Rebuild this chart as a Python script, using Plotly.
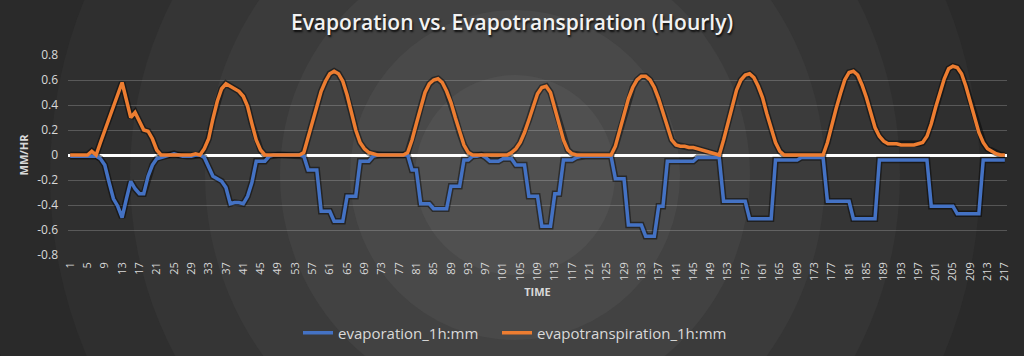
import base64
import plotly.graph_objects as go

# ---------------- data ----------------
hours = list(range(1, 218))
tick_labels = [str(v) for v in range(1, 218, 4)]

evaporation = [
    -0.01, -0.01, -0.01, -0.01, -0.01, -0.01, -0.01, -0.03, -0.08, -0.22,
    -0.35, -0.41, -0.50, -0.35, -0.21, -0.27, -0.31, -0.31, -0.17, -0.08,
    -0.03, -0.02, -0.01, 0.00, 0.01, 0.00, -0.01, -0.01, -0.01, 0.00,
    0.00, -0.02, -0.09, -0.17, -0.19, -0.21, -0.26, -0.39, -0.38, -0.38,
    -0.39, -0.33, -0.22, -0.05, -0.05, -0.05, -0.01, 0.00, 0.00, 0.00,
    0.00, 0.00, 0.00, 0.00, -0.01, -0.12, -0.12, -0.12, -0.45, -0.45,
    -0.45, -0.53, -0.53, -0.53, -0.33, -0.33, -0.33, -0.05, -0.05, -0.05,
    -0.01, 0.00, 0.00, 0.00, 0.00, 0.00, 0.00, 0.00, 0.00, -0.12,
    -0.12, -0.39, -0.39, -0.39, -0.43, -0.43, -0.43, -0.43, -0.25, -0.25,
    -0.25, -0.04, -0.04, -0.01, -0.01, 0.00, -0.02, -0.05, -0.05, -0.05,
    -0.03, -0.03, -0.03, -0.08, -0.08, -0.08, -0.33, -0.33, -0.33, -0.57,
    -0.57, -0.57, -0.31, -0.31, -0.04, -0.04, -0.04, -0.02, -0.01, -0.01,
    -0.01, -0.01, -0.01, -0.01, -0.01, -0.01, -0.19, -0.19, -0.19, -0.56,
    -0.56, -0.56, -0.56, -0.65, -0.65, -0.65, -0.41, -0.41, -0.05, -0.05,
    -0.05, -0.05, -0.05, -0.05, -0.05, -0.02, -0.02, -0.02, -0.02, -0.02,
    -0.02, -0.37, -0.37, -0.37, -0.37, -0.37, -0.37, -0.51, -0.51, -0.51,
    -0.51, -0.51, -0.51, -0.04, -0.04, -0.04, -0.04, -0.04, -0.04, -0.02,
    -0.02, -0.02, -0.02, -0.02, -0.02, -0.37, -0.37, -0.37, -0.37, -0.37,
    -0.37, -0.51, -0.51, -0.51, -0.51, -0.51, -0.51, -0.04, -0.04, -0.04,
    -0.04, -0.04, -0.04, -0.04, -0.04, -0.04, -0.04, -0.04, -0.04, -0.41,
    -0.41, -0.41, -0.41, -0.41, -0.41, -0.47, -0.47, -0.47, -0.47, -0.47,
    -0.47, -0.04, -0.04, -0.04, -0.04, -0.04, -0.04,
]

evapotranspiration = [
    0.00, 0.00, 0.00, 0.00, 0.00, 0.03, 0.00, 0.10, 0.20, 0.30,
    0.39, 0.48, 0.58, 0.44, 0.30, 0.34, 0.27, 0.20, 0.19, 0.13,
    0.04, 0.00, 0.00, 0.00, 0.00, 0.00, 0.00, 0.00, 0.00, 0.01,
    0.00, 0.05, 0.13, 0.29, 0.43, 0.53, 0.57, 0.55, 0.53, 0.51,
    0.47, 0.39, 0.25, 0.12, 0.04, 0.00, 0.00, 0.00, 0.00, 0.00,
    0.00, 0.00, 0.00, 0.00, 0.02, 0.14, 0.27, 0.40, 0.51, 0.59,
    0.65, 0.67, 0.65, 0.59, 0.48, 0.34, 0.20, 0.10, 0.05, 0.02,
    0.01, 0.00, 0.00, 0.00, 0.00, 0.00, 0.00, 0.00, 0.02, 0.12,
    0.25, 0.38, 0.50, 0.57, 0.60, 0.61, 0.58, 0.51, 0.42, 0.30,
    0.18, 0.08, 0.02, 0.00, 0.00, 0.00, 0.00, 0.00, 0.00, 0.00,
    0.00, 0.00, 0.02, 0.05, 0.10, 0.18, 0.28, 0.39, 0.49, 0.54,
    0.55, 0.50, 0.38, 0.24, 0.12, 0.04, 0.01, 0.00, 0.00, 0.00,
    0.00, 0.00, 0.00, 0.00, 0.00, 0.00, 0.07, 0.19, 0.33, 0.45,
    0.54, 0.60, 0.63, 0.63, 0.60, 0.54, 0.45, 0.34, 0.23, 0.12,
    0.08, 0.07, 0.07, 0.06, 0.06, 0.05, 0.04, 0.03, 0.02, 0.01,
    0.00, 0.12, 0.26, 0.40, 0.52, 0.60, 0.64, 0.65, 0.62, 0.55,
    0.46, 0.33, 0.21, 0.10, 0.03, 0.00, 0.00, 0.00, 0.00, 0.00,
    0.00, 0.00, 0.00, 0.00, 0.00, 0.10, 0.25, 0.37, 0.49, 0.60,
    0.66, 0.67, 0.64, 0.56, 0.46, 0.34, 0.22, 0.15, 0.11, 0.09,
    0.09, 0.09, 0.08, 0.08, 0.08, 0.08, 0.09, 0.10, 0.15, 0.25,
    0.38, 0.50, 0.61, 0.69, 0.71, 0.70, 0.65, 0.55, 0.43, 0.30,
    0.18, 0.10, 0.05, 0.03, 0.01, 0.00, 0.00,
]

y_ticks = [0.8, 0.6, 0.4, 0.2, 0, -0.2, -0.4, -0.6, -0.8]
y_tick_text = ["0.8", "0.6", "0.4", "0.2", "0", "-0.2", "-0.4", "-0.6", "-0.8"]

assert len(evaporation) == len(hours) == len(evapotranspiration)

# ---------------- background (decorative radial rings) ----------------
W, H = 1024, 356
cx, cy = 515, 175
rings = [(640, "#262626"), (545, "#2a2a2a"), (465, "#2f2f2f"), (385, "#353535"),
         (310, "#3b3b3b"), (235, "#424242"), (165, "#494949"), (100, "#505050")]
svg = [f'<svg xmlns="http://www.w3.org/2000/svg" width="{W}" height="{H}">',
       f'<rect width="{W}" height="{H}" fill="#222222"/>']
for r, c in rings:
    svg.append(f'<circle cx="{cx}" cy="{cy}" r="{r}" fill="{c}"/>')
svg.append("</svg>")
bg_uri = "data:image/svg+xml;base64," + base64.b64encode("".join(svg).encode()).decode()

# plot area in pixels
L, R, T, B = 68, 17, 55, 101
pw, ph = W - L - R, H - T - B

FONT = "'Open Sans', 'DejaVu Sans', sans-serif"
BLUE = "#4472C4"
ORANGE = "#ED7D31"

fig = go.Figure()
for series, col in ((evaporation, BLUE), (evapotranspiration, ORANGE)):
    fig.add_trace(go.Scatter(x=hours, y=series, mode="lines",
                             line=dict(color="rgba(0,0,0,0.45)", width=6.5),
                             showlegend=False, hoverinfo="skip"))
fig.add_trace(go.Scatter(x=hours, y=evaporation, mode="lines", name="evaporation_1h:mm",
                         line=dict(color=BLUE, width=3.5), legend="legend"))
fig.add_trace(go.Scatter(x=hours, y=evapotranspiration, mode="lines",
                         name="evapotranspiration_1h:mm",
                         line=dict(color=ORANGE, width=3.5), legend="legend2"))

legend_common = dict(orientation="h", y=(ph - (333 - T)) / ph, yanchor="middle",
                     xanchor="left", font=dict(size=15, color="#d9d9d9"),
                     bgcolor="rgba(0,0,0,0)", itemwidth=30)

fig.update_layout(
    width=W, height=H,
    margin=dict(l=L, r=R, t=T, b=B, pad=0, autoexpand=False),
    paper_bgcolor="#2b2b2b",
    plot_bgcolor="rgba(0,0,0,0)",
    font=dict(family=FONT, color="#d9d9d9"),
    title=dict(text="Evaporation vs. Evapotranspiration (Hourly)",
               x=(512 - L) / pw, xanchor="center", xref="paper",
               y=1 - 23 / H, yanchor="middle",
               font=dict(size=21, color="#f2f2f2", family=FONT, weight=600,
                         shadow="1px 2px 2px rgba(0,0,0,0.8)")),
    images=[dict(source=bg_uri, xref="paper", yref="paper",
                 x=-L / pw, y=1 + T / ph, sizex=W / pw, sizey=H / ph,
                 xanchor="left", yanchor="top", sizing="stretch", layer="below")],
    legend=dict(x=(298 - L) / pw, **legend_common),
    legend2=dict(x=(497 - L) / pw, **legend_common),
    showlegend=True,
)

fig.update_xaxes(
    range=[0.5, 217.5], tickmode="array", tickvals=list(range(1, 218, 4)),
    ticktext=tick_labels, tickangle=-90, tickfont=dict(size=11, color="#d9d9d9"),
    showgrid=False, zeroline=False, showline=False, ticks="",
    ticklabelstandoff=4, automargin=False,
    title=dict(text="<b>TIME</b>", font=dict(size=11, color="#d9d9d9"), standoff=8),
)
fig.update_yaxes(
    range=[-0.8, 0.8], tickmode="array", tickvals=y_ticks, ticktext=y_tick_text,
    tickfont=dict(size=12, color="#d9d9d9"),
    showgrid=True, gridcolor="rgba(217,217,217,0.25)", gridwidth=1,
    zeroline=True, zerolinecolor="#ffffff", zerolinewidth=3,
    showline=False, ticks="", ticklabelstandoff=9, automargin=False,
    title=dict(text="<b>MM/HR</b>", font=dict(size=11, color="#d9d9d9"), standoff=6),
)

fig.write_html("out.html", config={"displayModeBar": False},
               post_script="document.body.style.margin='0';")
